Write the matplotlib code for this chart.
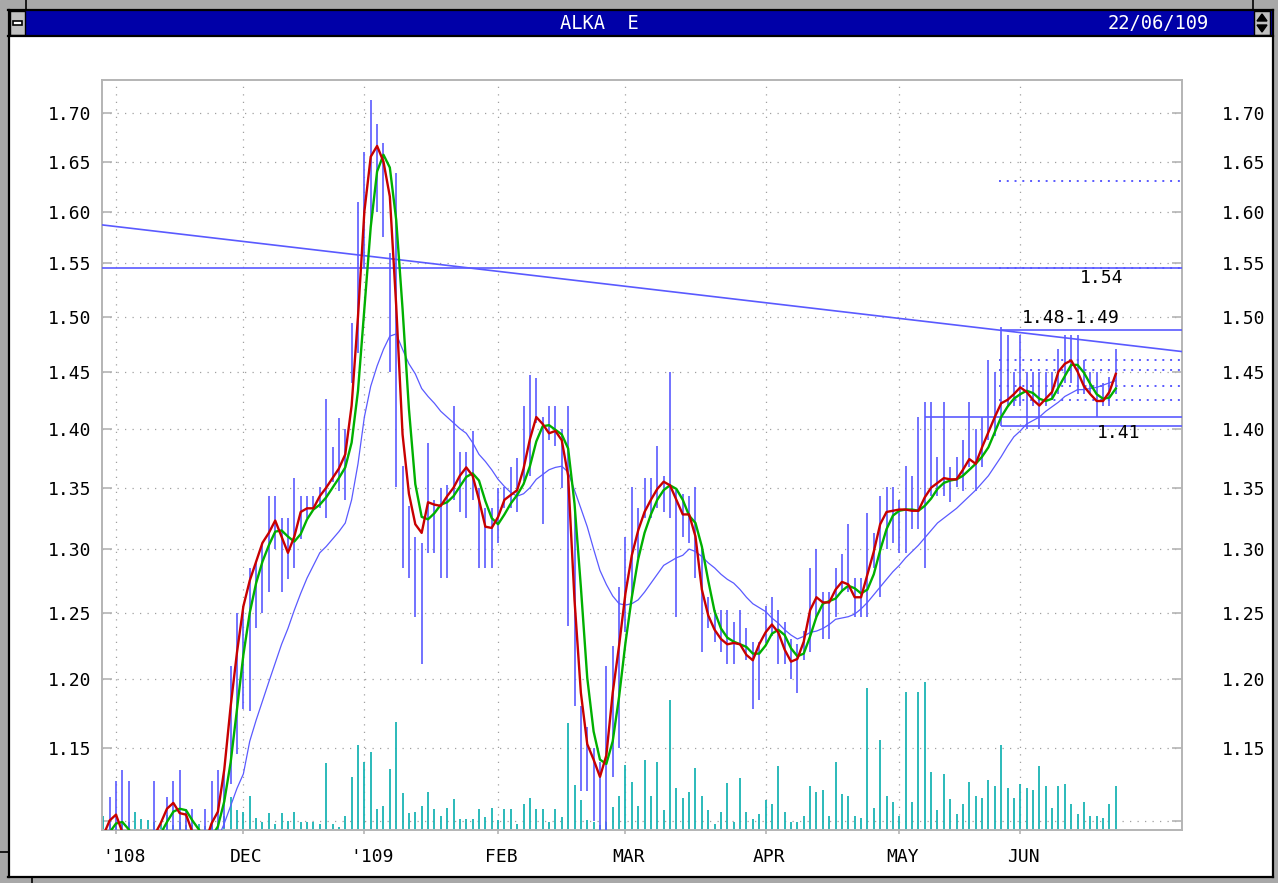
import matplotlib
matplotlib.use("Agg")
import numpy as np
import matplotlib.pyplot as plt
from matplotlib.patches import Rectangle, Polygon
from matplotlib.ticker import FixedLocator, FixedFormatter, NullLocator

nan = np.nan

# ==========================================================
# Dati (un valore per seduta, 161 sedute)
# ==========================================================
month_pos = [3, 23, 42, 63, 83, 105, 126, 145]
month_labels = ["'108", "DEC", "'109", "FEB", "MAR", "APR", "MAY", "JUN"]

price_ticks = [1.10, 1.15, 1.20, 1.25, 1.30, 1.35, 1.40, 1.45, 1.50, 1.55, 1.60, 1.65, 1.70]
price_labels = ["", "1.15", "1.20", "1.25", "1.30", "1.35", "1.40", "1.45",
                "1.50", "1.55", "1.60", "1.65", "1.70"]

high = [
    1.080, 1.085, 1.116, 1.127, 1.135, 1.127, 1.088, 1.088, 1.088, 1.127,
    1.088, 1.116, 1.127, 1.135, 1.108, 1.108, 1.088, 1.108, 1.127, 1.135,
    1.135, 1.210, 1.250, 1.255, 1.285, 1.290, 1.305, 1.343, 1.343, 1.325,
    1.325, 1.358, 1.343, 1.343, 1.343, 1.351, 1.426, 1.384, 1.409, 1.400,
    1.494, 1.610, 1.660, 1.714, 1.689, 1.669, 1.560, 1.638, 1.368, 1.335,
    1.310, 1.305, 1.388, 1.340, 1.350, 1.352, 1.420, 1.380, 1.380, 1.398,
    1.350, 1.333, 1.333, 1.350, 1.351, 1.367, 1.375, 1.420, 1.447, 1.444,
    1.410, 1.420, 1.420, 1.400, 1.420, 1.330, 1.180, 1.165, 1.150, 1.140,
    1.210, 1.225, 1.270, 1.310, 1.351, 1.333, 1.358, 1.358, 1.385, 1.360,
    1.450, 1.348, 1.345, 1.343, 1.351, 1.300, 1.262, 1.252, 1.252, 1.252,
    1.243, 1.252, 1.238, 1.228, 1.228, 1.255, 1.262, 1.252, 1.243, 1.230,
    1.226, 1.236, 1.285, 1.300, 1.266, 1.266, 1.285, 1.296, 1.320, 1.277,
    1.277, 1.329, 1.313, 1.343, 1.351, 1.351, 1.340, 1.368, 1.360, 1.410,
    1.423, 1.423, 1.376, 1.423, 1.367, 1.376, 1.390, 1.423, 1.400, 1.410,
    1.460, 1.450, 1.490, 1.483, 1.450, 1.483, 1.450, 1.450, 1.450, 1.450,
    1.450, 1.470, 1.483, 1.483, 1.483, 1.460, 1.450, 1.450, 1.440, 1.445, 1.470,
]

low = [
    1.075, 1.080, 1.080, 1.080, 1.080, 1.080, 1.080, 1.080, 1.080, 1.080,
    1.080, 1.080, 1.085, 1.090, 1.085, 1.080, 1.080, 1.080, 1.080, 1.085,
    1.095, 1.125, 1.146, 1.178, 1.177, 1.238, 1.250, 1.266, 1.300, 1.266,
    1.276, 1.285, 1.308, 1.325, 1.333, 1.333, 1.325, 1.355, 1.347, 1.340,
    1.440, 1.467, 1.545, 1.587, 1.600, 1.575, 1.450, 1.351, 1.285, 1.277,
    1.247, 1.211, 1.297, 1.297, 1.277, 1.277, 1.340, 1.330, 1.325, 1.340,
    1.285, 1.285, 1.285, 1.305, 1.333, 1.333, 1.330, 1.356, 1.360, 1.405,
    1.320, 1.390, 1.385, 1.350, 1.240, 1.180, 1.120, 1.120, 1.100, 1.090,
    1.090, 1.130, 1.150, 1.235, 1.262, 1.293, 1.325, 1.325, 1.333, 1.330,
    1.325, 1.247, 1.310, 1.305, 1.277, 1.220, 1.238, 1.228, 1.220, 1.211,
    1.211, 1.227, 1.214, 1.178, 1.185, 1.227, 1.232, 1.211, 1.211, 1.200,
    1.190, 1.214, 1.220, 1.247, 1.230, 1.230, 1.247, 1.266, 1.266, 1.247,
    1.247, 1.247, 1.285, 1.262, 1.300, 1.305, 1.297, 1.297, 1.316, 1.316,
    1.285, 1.343, 1.343, 1.343, 1.338, 1.351, 1.347, 1.367, 1.347, 1.367,
    1.390, 1.394, 1.402, 1.420, 1.420, 1.420, 1.400, 1.420, 1.400, 1.420,
    1.425, 1.430, 1.440, 1.440, 1.430, 1.430, 1.430, 1.410, 1.420, 1.420, 1.430,
]

# media veloce (rossa)
close = [
    1.085, 1.090, 1.100, 1.104, 1.092, 1.085, 1.085, 1.085, 1.085, 1.090,
    1.098, 1.108, 1.112, 1.105, 1.104, 1.092, 1.085, 1.085, 1.098, 1.106,
    1.135, 1.180, 1.220, 1.255, 1.275, 1.290, 1.305, 1.313, 1.323, 1.310,
    1.297, 1.310, 1.330, 1.333, 1.333, 1.343, 1.350, 1.358, 1.366, 1.378,
    1.420, 1.500, 1.600, 1.655, 1.666, 1.650, 1.615, 1.510, 1.395, 1.345,
    1.320, 1.313, 1.338, 1.336, 1.335, 1.343, 1.350, 1.360, 1.367, 1.360,
    1.340, 1.318, 1.317, 1.326, 1.340, 1.344, 1.348, 1.366, 1.391, 1.410,
    1.404, 1.396, 1.398, 1.390, 1.360, 1.260, 1.190, 1.153, 1.142, 1.130,
    1.145, 1.190, 1.225, 1.265, 1.295, 1.315, 1.330, 1.340, 1.349, 1.355,
    1.352, 1.340, 1.328, 1.328, 1.310, 1.268, 1.248, 1.237, 1.230, 1.226,
    1.227, 1.226, 1.218, 1.214, 1.226, 1.235, 1.241, 1.235, 1.222, 1.213,
    1.215, 1.228, 1.252, 1.262, 1.258, 1.258, 1.268, 1.274, 1.272, 1.262,
    1.262, 1.280, 1.298, 1.320, 1.330, 1.331, 1.332, 1.332, 1.331, 1.331,
    1.342, 1.350, 1.354, 1.358, 1.357, 1.357, 1.365, 1.374, 1.370, 1.384,
    1.397, 1.410, 1.422, 1.425, 1.430, 1.436, 1.432, 1.425, 1.420, 1.426,
    1.432, 1.450, 1.457, 1.460, 1.450, 1.437, 1.430, 1.424, 1.424, 1.432, 1.448,
]

# media (verde)
signal = [
    1.085, 1.088, 1.092, 1.098, 1.099, 1.094, 1.087, 1.085, 1.085, 1.087,
    1.091, 1.099, 1.106, 1.108, 1.107, 1.100, 1.094, 1.087, 1.089, 1.096,
    1.113, 1.140, 1.178, 1.218, 1.250, 1.273, 1.290, 1.303, 1.314, 1.315,
    1.310, 1.306, 1.312, 1.324, 1.332, 1.336, 1.342, 1.350, 1.358, 1.367,
    1.388, 1.433, 1.507, 1.585, 1.640, 1.657, 1.644, 1.592, 1.507, 1.417,
    1.353, 1.326, 1.324, 1.329, 1.336, 1.338, 1.343, 1.351, 1.359, 1.362,
    1.356, 1.339, 1.325, 1.320, 1.328, 1.337, 1.344, 1.353, 1.368, 1.389,
    1.402, 1.403, 1.399, 1.395, 1.383, 1.337, 1.270, 1.201, 1.162, 1.142,
    1.139, 1.155, 1.187, 1.227, 1.262, 1.292, 1.313, 1.328, 1.340, 1.348,
    1.352, 1.349, 1.340, 1.327, 1.321, 1.302, 1.275, 1.251, 1.238, 1.231,
    1.228, 1.226, 1.224, 1.219, 1.219, 1.225, 1.234, 1.237, 1.233, 1.223,
    1.217, 1.219, 1.232, 1.247, 1.257, 1.259, 1.261, 1.267, 1.271, 1.269,
    1.265, 1.268, 1.280, 1.299, 1.316, 1.327, 1.331, 1.332, 1.332, 1.331,
    1.335, 1.341, 1.349, 1.354, 1.356, 1.357, 1.360, 1.365, 1.370, 1.376,
    1.384, 1.397, 1.410, 1.419, 1.426, 1.430, 1.433, 1.431, 1.426, 1.424,
    1.426, 1.436, 1.446, 1.456, 1.456, 1.449, 1.439, 1.430, 1.426, 1.427, 1.435,
]

# media lenta (blu sottile)
average = [nan] * 17 + [
    1.070, 1.078, 1.088,
    1.098, 1.110, 1.122, 1.132, 1.155, 1.170, 1.184, 1.198, 1.212, 1.226,
    1.238, 1.252, 1.265, 1.277, 1.287, 1.297, 1.302, 1.308, 1.314, 1.321,
    1.340, 1.370, 1.410, 1.437, 1.455, 1.470, 1.482, 1.484, 1.470, 1.457,
    1.448, 1.435, 1.428, 1.422, 1.415, 1.410, 1.405, 1.400, 1.396, 1.388,
    1.378, 1.372, 1.365, 1.357, 1.351, 1.346, 1.343, 1.345, 1.350, 1.357,
    1.361, 1.365, 1.367, 1.368, 1.363, 1.348, 1.333, 1.318, 1.300, 1.283,
    1.272, 1.263, 1.257, 1.256, 1.257, 1.260, 1.266, 1.273, 1.280, 1.287,
    1.290, 1.293, 1.295, 1.300, 1.298, 1.294, 1.289, 1.285, 1.280, 1.276,
    1.273, 1.268, 1.262, 1.257, 1.254, 1.251, 1.246, 1.242, 1.237, 1.233,
    1.230, 1.232, 1.235, 1.236, 1.238, 1.241, 1.245, 1.246, 1.247, 1.249,
    1.253, 1.258, 1.264, 1.270, 1.276, 1.282, 1.287, 1.293, 1.298, 1.303,
    1.309, 1.315, 1.321, 1.325, 1.329, 1.333, 1.338, 1.343, 1.348, 1.354,
    1.360, 1.368, 1.376, 1.385, 1.393, 1.398, 1.404, 1.407, 1.410, 1.415,
    1.419, 1.423, 1.428, 1.431, 1.434, 1.434, 1.435, 1.436, 1.438, 1.440, 1.442,
]

volume = [
    0, 14, 6, 5, 6, 8, 18, 11, 10, 8,
    6, 15, 5, 8, 5, 5, 6, 4, 8, 6,
    14, 33, 20, 18, 34, 12, 8, 17, 6, 17,
    9, 18, 8, 8, 8, 6, 67, 6, 3, 14,
    53, 85, 68, 78, 21, 24, 61, 108, 37, 17,
    18, 24, 38, 21, 14, 22, 31, 11, 11, 11,
    21, 13, 22, 10, 21, 21, 6, 26, 32, 21,
    21, 8, 21, 13, 107, 45, 30, 10, 8, 5,
    8, 23, 34, 65, 48, 24, 70, 34, 68, 20,
    130, 42, 32, 38, 62, 34, 20, 6, 18, 47,
    8, 52, 18, 11, 16, 30, 26, 64, 18, 8,
    8, 14, 44, 38, 40, 14, 68, 36, 34, 14,
    12, 142, 22, 90, 34, 28, 14, 138, 28, 138,
    148, 58, 20, 56, 31, 16, 26, 48, 34, 32,
    50, 44, 85, 42, 32, 46, 42, 40, 64, 44,
    22, 44, 46, 26, 16, 28, 14, 14, 12, 26, 44,
]
volume_top = 750

# linee tracciate a mano sul grafico
support_level = 1.545
trend_values = [1.587, 1.468]
box_levels = [1.488, 1.410, 1.402]
box_starts = [142, 130, 142]
dotted_levels = [1.630, 1.545, 1.460, 1.451, 1.437, 1.425]
dotted_start = 141.7
notes = [("1.54", 154.4, 1.536), ("1.48-1.49", 145.2, 1.499), ("1.41", 157.1, 1.396)]

title_name = "ALKA  E"
title_date = "22/06/109"

# ==========================================================
# Stile
# ==========================================================
BLUE = "#5a5aff"
RED = "#c80000"
GREEN = "#00b000"
TEAL = "#1ab4b4"
GRID = "#a0a0a0"
BAR_BG = "#0000a8"
FRAME_GREY = "#a8a8a8"

plt.rcParams["font.family"] = ["DejaVu Sans Mono"]

W, H = 1278, 883
fig = plt.figure(figsize=(W / 100, H / 100), dpi=100)

# ---- cornice della finestra ----
bg = fig.add_axes([0, 0, 1, 1], zorder=0)
bg.set_xlim(0, W)
bg.set_ylim(H, 0)
bg.axis("off")
bg.add_patch(Rectangle((0, 0), W, H, color=FRAME_GREY))
bg.add_patch(Rectangle((9, 36), 1263, 840, color="white"))
bg.add_patch(Rectangle((9, 11), 1263, 24, color=BAR_BG))
for y in (10, 35.5, 876.5):
    bg.plot([8, 1273], [y, y], color="black", lw=1.6)
for x in (8.5, 1272.5):
    bg.plot([x, x], [10, 877], color="black", lw=1.6)
bg.plot([25.5, 25.5], [0, 10], color="black", lw=1.2)
bg.plot([1252.5, 1252.5], [0, 10], color="black", lw=1.2)
bg.plot([32, 32], [877, H], color="black", lw=1.2)
bg.plot([0, 8], [852, 852], color="black", lw=1.2)
# box sinistro
bg.add_patch(Rectangle((10, 11), 15, 24, facecolor="#c0c0c0", edgecolor="black", lw=1))
bg.add_patch(Rectangle((13, 20.5), 9, 4.5, facecolor="white", edgecolor="black", lw=1.2))
# box destro con frecce
bg.add_patch(Rectangle((1254, 11), 16, 24, facecolor="#c0c0c0", edgecolor="black", lw=1))
bg.add_patch(Polygon([[1257, 21], [1267, 21], [1262, 14]], color="black"))
bg.add_patch(Polygon([[1257, 25], [1267, 25], [1262, 32]], color="black"))
bg.text(599, 23.5, title_name, color="white", fontsize=13.5, ha="center", va="center")
bg.text(1209, 23.5, title_date, color="white", fontsize=13.5, ha="right", va="center")

# ---- grafico ----
ax = fig.add_axes([102 / W, 1 - 830 / H, 1080 / W, 750 / H], zorder=2)
ax.set_facecolor("white")
idx = np.arange(len(high))

ax.set_yscale("log")
ax.set_ylim(1.0936, 1.735)
ax.set_xlim(0.8, 170.4)

ax.yaxis.set_major_locator(FixedLocator(price_ticks))
ax.yaxis.set_major_formatter(FixedFormatter(price_labels))
ax.yaxis.set_minor_locator(NullLocator())
ax.set_xticks(month_pos)
ax.set_xticklabels([])

ax.grid(True, which="major", linestyle=(0, (1, 5)), color=GRID, lw=0.9)
for s in ax.spines.values():
    s.set_color("#b4b4b4")
    s.set_linewidth(1.4)
ax.tick_params(axis="y", direction="in", length=7, color="#b4b4b4", width=1.2,
               labelsize=13, pad=8)
ax.tick_params(axis="x", direction="out", length=3, color="#b4b4b4", width=1.2)

# etichette dei mesi (leggermente spostate a destra come nell'originale)
for pos, lab in zip(month_pos, month_labels):
    shift = 8 if lab.startswith("'") else 3
    ax.annotate(lab, xy=(pos, 0), xycoords=ax.get_xaxis_transform(),
                xytext=(shift * 0.72, -27 * 0.72), textcoords="offset points",
                ha="center", va="center", fontsize=13)

# volumi sul fondo
ax.vlines(idx, 0, np.array(volume) / volume_top, transform=ax.get_xaxis_transform(),
          colors=TEAL, lw=1.3, zorder=2)

# barre massimo-minimo
ax.vlines(idx, low, high, colors=BLUE, lw=1.2, zorder=3)

# linee di livello
x0, x1 = ax.get_xlim()
ax.axhline(support_level, color=BLUE, lw=1.2, zorder=3)
ax.plot([x0, x1], trend_values, color=BLUE, lw=1.2, zorder=3)
ax.hlines(box_levels, box_starts, x1, colors=BLUE, lw=1.2, zorder=3)
ax.hlines(dotted_levels, dotted_start, x1, colors=BLUE, lw=1.4,
          linestyles=[(0, (1, 3))], zorder=3)

# medie
ax.plot(idx, average, color=BLUE, lw=0.9, zorder=4)
ax.plot(idx, signal, color=GREEN, lw=1.7, zorder=5)
ax.plot(idx, close, color=RED, lw=1.7, zorder=6)

for txt, xv, yv in notes:
    ax.text(xv, yv, txt, fontsize=13, ha="left", va="center", color="black", zorder=7)

# etichette a destra
ax2 = ax.twinx()
ax2.set_yscale("log")
ax2.set_ylim(ax.get_ylim())
ax2.yaxis.set_major_locator(FixedLocator(price_ticks))
ax2.yaxis.set_major_formatter(FixedFormatter(price_labels))
ax2.yaxis.set_minor_locator(NullLocator())
ax2.tick_params(axis="y", direction="in", length=7, color="#b4b4b4", width=1.2,
                labelsize=13, pad=29)
for s in ax2.spines.values():
    s.set_visible(False)

fig.savefig("out.png", dpi=100)
